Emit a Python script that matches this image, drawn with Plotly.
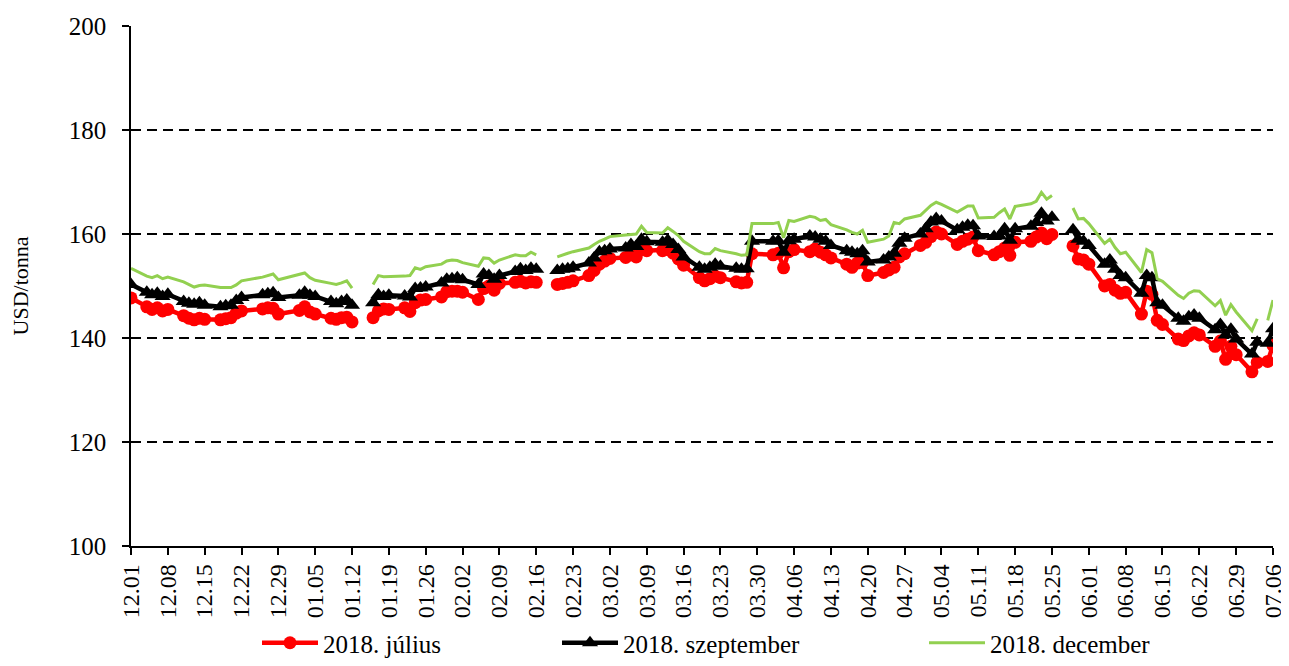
import plotly.graph_objects as go

# ---- data ----
dates = [
    # 2017 December
    "2017-12-01", "2017-12-04", "2017-12-05", "2017-12-06", "2017-12-07", "2017-12-08",
    "2017-12-11", "2017-12-12", "2017-12-13", "2017-12-14", "2017-12-15",
    "2017-12-18", "2017-12-19", "2017-12-20", "2017-12-21", "2017-12-22",
    "2017-12-26", "2017-12-27", "2017-12-28", "2017-12-29",
    # 2018 January
    "2018-01-02", "2018-01-03", "2018-01-04", "2018-01-05",
    "2018-01-08", "2018-01-09", "2018-01-10", "2018-01-11", "2018-01-12",
    "2018-01-15", "2018-01-16", "2018-01-17", "2018-01-18", "2018-01-19",
    "2018-01-22", "2018-01-23", "2018-01-24", "2018-01-25", "2018-01-26",
    "2018-01-29", "2018-01-30", "2018-01-31",
    # February
    "2018-02-01", "2018-02-02",
    "2018-02-05", "2018-02-06", "2018-02-07", "2018-02-08", "2018-02-09",
    "2018-02-12", "2018-02-13", "2018-02-14", "2018-02-15", "2018-02-16",
    "2018-02-19", "2018-02-20", "2018-02-21", "2018-02-22", "2018-02-23",
    "2018-02-26", "2018-02-27", "2018-02-28",
    # March
    "2018-03-01", "2018-03-02",
    "2018-03-05", "2018-03-06", "2018-03-07", "2018-03-08", "2018-03-09",
    "2018-03-12", "2018-03-13", "2018-03-14", "2018-03-15", "2018-03-16",
    "2018-03-19", "2018-03-20", "2018-03-21", "2018-03-22", "2018-03-23",
    "2018-03-26", "2018-03-27", "2018-03-28", "2018-03-29",
    # April
    "2018-04-02", "2018-04-03", "2018-04-04", "2018-04-05", "2018-04-06",
    "2018-04-09", "2018-04-10", "2018-04-11", "2018-04-12", "2018-04-13",
    "2018-04-16", "2018-04-17", "2018-04-18", "2018-04-19", "2018-04-20",
    "2018-04-23", "2018-04-24", "2018-04-25", "2018-04-26", "2018-04-27",
    "2018-04-30",
    # May
    "2018-05-01", "2018-05-02", "2018-05-03", "2018-05-04",
    "2018-05-07", "2018-05-08", "2018-05-09", "2018-05-10", "2018-05-11",
    "2018-05-14", "2018-05-15", "2018-05-16", "2018-05-17", "2018-05-18",
    "2018-05-21", "2018-05-22", "2018-05-23", "2018-05-24", "2018-05-25",
    "2018-05-28", "2018-05-29", "2018-05-30", "2018-05-31",
    # June
    "2018-06-01",
    "2018-06-04", "2018-06-05", "2018-06-06", "2018-06-07", "2018-06-08",
    "2018-06-11", "2018-06-12", "2018-06-13", "2018-06-14", "2018-06-15",
    "2018-06-18", "2018-06-19", "2018-06-20", "2018-06-21", "2018-06-22",
    "2018-06-25", "2018-06-26", "2018-06-27", "2018-06-28", "2018-06-29",
    # July
    "2018-07-02", "2018-07-03", "2018-07-04", "2018-07-05", "2018-07-06",
]

julius = [
    147.7, 146.0, 145.5, 145.8, 145.2, 145.5, 144.3, 143.8, 143.5, 143.8, 143.6,
    143.5, 143.7, 143.9, 144.8, 145.2, 145.6, 145.8, 145.7, 144.6,
    145.3, 146.0, 145.0, 144.6, 143.8, 143.6, 143.9, 144.0, 143.1, None,
    143.9, 145.2, 145.6, 145.5, 145.8, 145.1, 146.8, 147.3, 147.4, 147.9, 148.9, 149.0,
    149.0, 148.8, 147.4, 149.5, 150.0, 149.2, 150.5, 150.7, 150.9, 150.6, 150.8, 150.7,
    None, 150.3, 150.5, 150.7, 151.0, 152.0, 153.0, 154.2,
    154.8, 155.3, 155.5, 156.0, 155.6, 157.0, 156.8, 156.8, 157.0, 156.3, 155.2, 154.0,
    151.6, 151.0, 151.4, 151.9, 151.6, 150.8, 150.6, 150.7, 156.2,
    156.0, 156.3, 153.5, 156.6, 157.0, 156.6, 157.1, 156.5, 156.0, 155.4,
    154.2, 153.6, 154.4, 154.5, 152.0, 152.6, 153.1, 153.6, 155.6, 156.2, 157.8,
    158.4, 159.5, 160.4, 160.0, 158.0, 158.6, 159.0, 159.4, 156.8,
    156.0, 156.6, 157.3, 155.9, 158.4, 158.6, 159.4, 160.2, 159.1, 159.9,
    None, 157.7, 155.2, 155.0,
    154.2, 150.0, 150.3, 149.2, 148.6, 148.8, 144.6, 149.0, 148.4, 143.4, 142.6,
    139.8, 139.5, 140.4, 141.0, 140.6, 138.4, 139.4, 135.9, 138.4, 136.8,
    133.5, 135.3, None, 135.5, 138.6,
]

szeptember = [
    150.3, 148.8, 148.3, 148.6, 148.0, 148.4, 147.0, 146.7, 146.5, 146.8, 146.3,
    146.0, 146.2, 146.3, 147.2, 147.8, 148.3, 148.5, 148.7, 147.8,
    148.2, 148.8, 148.2, 148.0, 147.0, 146.6, 147.0, 147.3, 146.3, None,
    146.8, 148.3, 148.0, 148.2, 148.1, 147.9, 149.5, 149.6, 149.8, 150.6, 151.3, 151.4,
    151.6, 151.2, 150.3, 152.3, 152.0, 151.3, 152.0, 152.8, 153.3, 153.0, 153.4, 153.2,
    None, 153.0, 153.2, 153.3, 153.6, 154.4, 155.4, 156.6,
    156.8, 157.1, 157.3, 158.0, 157.6, 159.0, 158.5, 158.4, 158.8, 158.0, 157.0, 155.6,
    153.6, 153.2, 153.6, 154.2, 153.8, 153.4, 153.2, 153.3, 158.6,
    158.6, 158.7, 156.5, 158.7, 159.0, 159.6, 159.4, 159.0, 158.6, 157.8,
    156.8, 156.5, 156.2, 156.8, 154.6, 155.0, 155.6, 156.3, 158.2, 159.2, 160.0,
    161.0, 162.3, 163.0, 162.5, 160.8, 161.3, 161.7, 161.6, 159.6,
    159.5, 159.6, 161.0, 158.8, 161.0, 161.5, 162.2, 164.0, 162.5, 163.2,
    None, 160.8, 159.0, 158.6,
    157.8, 154.2, 155.0, 153.2, 152.0, 151.6, 148.6, 152.0, 151.6, 146.8, 146.3,
    143.8, 143.2, 144.1, 144.4, 143.8, 141.6, 142.6, 140.6, 141.7, 139.8,
    136.9, 139.2, None, 139.0, 141.8,
]

december = [
    153.4, 151.9, 151.6, 152.0, 151.4, 151.7, 150.8, 150.3, 149.8, 150.1, 150.2,
    149.7, 149.7, 149.7, 150.2, 151.0, 151.7, 152.0, 152.3, 151.2,
    152.3, 152.5, 151.6, 151.1, 150.5, 150.3, 150.6, 151.0, 149.6, None,
    150.3, 152.0, 151.8, 151.8, 151.9, 152.0, 153.5, 153.2, 153.7, 154.2, 154.8, 155.0,
    154.9, 154.5, 153.8, 155.4, 155.3, 154.4, 155.0, 156.0, 155.8, 155.8, 156.5, 156.0,
    None, 155.6, 156.0, 156.3, 156.6, 157.3, 158.0, 158.6,
    159.0, 159.5, 159.8, 159.9, 160.0, 161.5, 160.3, 160.2, 161.2, 160.5, 159.7, 158.6,
    156.6, 156.2, 156.2, 157.2, 156.8, 156.2, 155.9, 156.0, 162.0,
    162.0, 162.2, 159.3, 162.6, 162.4, 163.4, 163.2, 162.6, 162.8, 161.8,
    160.8, 160.3, 160.0, 160.7, 158.4, 159.0, 159.6, 162.2, 162.0, 162.9, 163.6,
    164.6, 165.5, 166.1, 165.7, 164.2, 164.8, 165.4, 165.4, 163.1,
    163.2, 164.1, 164.8, 162.9, 165.3, 165.8, 166.3, 168.0, 166.7, 167.4,
    None, 165.0, 162.9, 163.0,
    162.0, 158.2, 159.0, 157.4, 156.2, 156.5, 152.6, 157.0, 156.4, 151.4, 150.9,
    148.2, 147.6, 148.6, 149.1, 149.0, 146.2, 147.2, 144.4, 146.4, 145.0,
    141.4, 143.7, None, 143.4, 147.3,
]

tick_dates = [
    "2017-12-01", "2017-12-08", "2017-12-15", "2017-12-22", "2017-12-29",
    "2018-01-05", "2018-01-12", "2018-01-19", "2018-01-26", "2018-02-02",
    "2018-02-09", "2018-02-16", "2018-02-23", "2018-03-02", "2018-03-09",
    "2018-03-16", "2018-03-23", "2018-03-30", "2018-04-06", "2018-04-13",
    "2018-04-20", "2018-04-27", "2018-05-04", "2018-05-11", "2018-05-18",
    "2018-05-25", "2018-06-01", "2018-06-08", "2018-06-15", "2018-06-22",
    "2018-06-29", "2018-07-06",
]
tick_labels = [
    "12.01", "12.08", "12.15", "12.22", "12.29", "01.05", "01.12", "01.19",
    "01.26", "02.02", "02.09", "02.16", "02.23", "03.02", "03.09", "03.16",
    "03.23", "03.30", "04.06", "04.13", "04.20", "04.27", "05.04", "05.11",
    "05.18", "05.25", "06.01", "06.08", "06.15", "06.22", "06.29", "07.06",
]

FONT = "Liberation Serif, Times New Roman, serif"

# the page body has an 8px margin, so the figure is 8px smaller than the window
FIG_W, FIG_H = 1281, 658

fig = go.Figure()
fig.add_trace(go.Scatter(
    x=dates, y=julius, name="2018. július", mode="lines+markers",
    line=dict(color="#FF0000", width=4.5),
    marker=dict(symbol="circle", size=13, color="#FF0000"),
    connectgaps=False, legend="legend",
))
fig.add_trace(go.Scatter(
    x=dates, y=szeptember, name="2018. szeptember", mode="lines+markers",
    line=dict(color="#000000", width=4.5),
    marker=dict(symbol="triangle-up", size=14, color="#000000"),
    connectgaps=False, legend="legend2",
))
fig.add_trace(go.Scatter(
    x=dates, y=december, name="2018. december", mode="lines",
    line=dict(color="#92D050", width=3),
    connectgaps=False, legend="legend3",
))

leg_common = dict(orientation="h", xref="container", yref="container",
                  yanchor="bottom", y=0, xanchor="left", itemwidth=56,
                  font=dict(family=FONT, size=25, color="#000000"),
                  bgcolor="rgba(0,0,0,0)", borderwidth=0)

fig.update_layout(
    width=FIG_W, height=FIG_H,
    margin=dict(l=123, r=16, t=18, b=120, autoexpand=False),
    paper_bgcolor="white", plot_bgcolor="white",
    font=dict(family=FONT, color="#000000"),
    showlegend=True,
    legend=dict(x=249 / FIG_W, **leg_common),
    legend2=dict(x=549 / FIG_W, **leg_common),
    legend3=dict(x=916 / FIG_W, **leg_common),
    xaxis=dict(
        type="date", automargin=False,
        range=["2017-12-01", "2018-07-06"],
        tickmode="array", tickvals=tick_dates, ticktext=tick_labels,
        tickangle=-90,
        tickfont=dict(family=FONT, size=24, color="#000000"),
        showgrid=False, zeroline=False,
        showline=True, linecolor="#000000", linewidth=1.5,
        ticks="outside", ticklen=7, tickwidth=1.5, tickcolor="#000000",
    ),
    yaxis=dict(
        automargin=False,
        range=[100, 200], dtick=20, tick0=100,
        tickfont=dict(family=FONT, size=25, color="#000000"),
        showgrid=True, gridcolor="#000000", gridwidth=1.5, griddash="10px,6px",
        zeroline=False,
        showline=True, linecolor="#000000", linewidth=1.5,
        ticks="outside", ticklen=7, tickwidth=1.5, tickcolor="#000000",
        ticklabelstandoff=11,
        title=dict(text="USD/tonna", font=dict(family=FONT, size=22, color="#000000"),
                   standoff=35),
    ),
)

fig.write_html("out.html")
